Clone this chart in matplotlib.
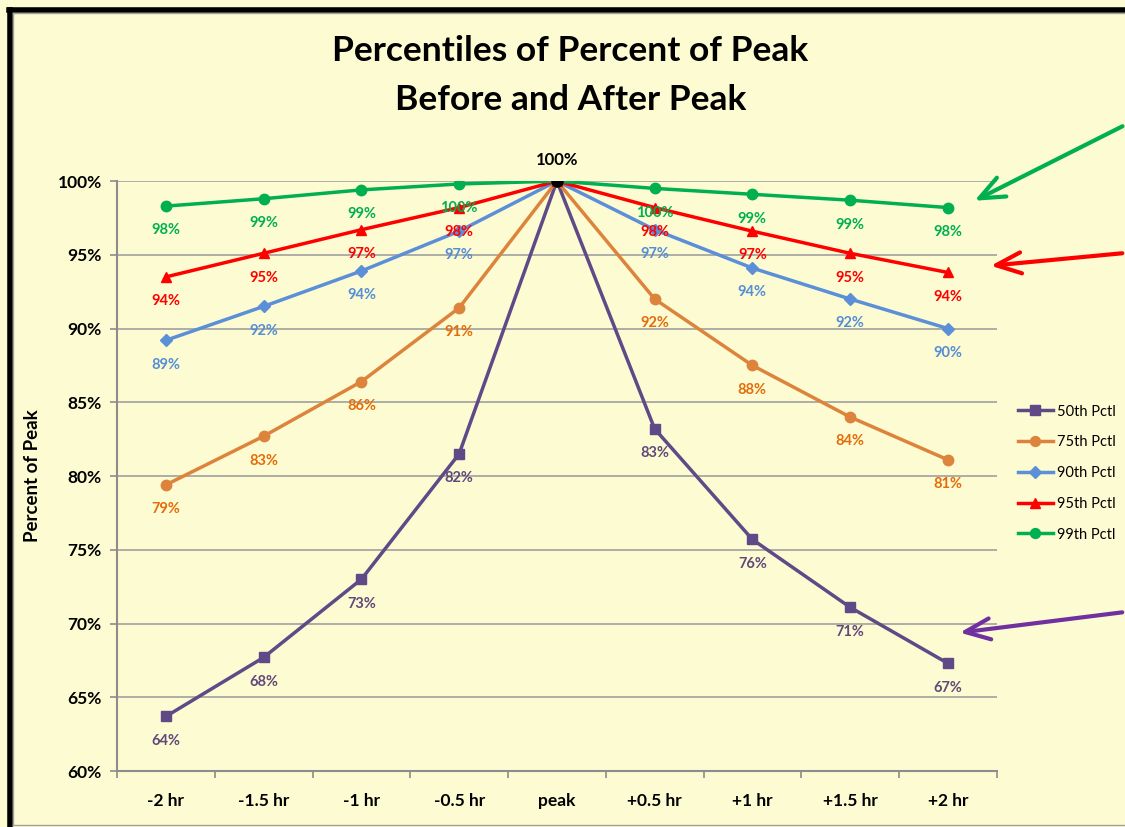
import matplotlib.pyplot as plt
from matplotlib.lines import Line2D
from matplotlib.patches import FancyArrowPatch
from matplotlib.ticker import FixedLocator, PercentFormatter

plt.rcParams["font.family"] = ["Lato", "DejaVu Sans"]

hours = ["-2 hr", "-1.5 hr", "-1 hr", "-0.5 hr", "peak",
         "+0.5 hr", "+1 hr", "+1.5 hr", "+2 hr"]

p50 = [63.7, 67.7, 73.0, 81.5, 100.0, 83.2, 75.7, 71.1, 67.3]
p75 = [79.4, 82.7, 86.4, 91.4, 100.0, 92.0, 87.5, 84.0, 81.1]
p90 = [89.2, 91.5, 93.9, 96.6, 100.0, 96.7, 94.1, 92.0, 90.0]
p95 = [93.5, 95.1, 96.7, 98.2, 100.0, 98.2, 96.6, 95.1, 93.8]
p99 = [98.3, 98.8, 99.4, 99.8, 100.0, 99.5, 99.1, 98.7, 98.2]

series = [
    ("50th Pctl", p50, "#5F4A87", "#60497A", "s"),
    ("75th Pctl", p75, "#DD843C", "#E46C0A", "o"),
    ("90th Pctl", p90, "#5B8FD7", "#558ED5", "D"),
    ("95th Pctl", p95, "#FF0000", "#FF0000", "^"),
    ("99th Pctl", p99, "#00B050", "#00B050", "o"),
]

BG = "#FDFBD2"
x = list(range(len(hours)))

fig = plt.figure(figsize=(11.25, 8.27), dpi=100, facecolor=BG)
ax = fig.add_axes([0.104, 0.0677, 0.782, 0.7134], facecolor=BG)

for name, vals, col, lcol, mk in series:
    ms = {"s": 7, "o": 7.5, "D": 6.5, "^": 7}[mk]
    ax.plot(x, vals, color=col, lw=2.5, marker=mk, ms=ms,
            markeredgecolor=col, label=name, zorder=3)
    for xi, v in zip(x, vals):
        if hours[xi] == "peak":
            continue
        ax.annotate(f"{v:.0f}%", (xi, v), xytext=(0, -17.5),
                    textcoords="offset points", ha="center", va="center",
                    fontsize=10.5, fontweight="bold", color=lcol, zorder=4)

# common point at the peak
ax.plot([4], [p50[4]], "o", color="black", ms=8, zorder=5)
ax.annotate(f"{p50[4]:.0f}%", (4, p50[4]), xytext=(0, 15),
            textcoords="offset points", ha="center", va="center",
            fontsize=12, fontweight="bold", color="black")

ax.set_xlim(-0.5, len(hours) - 0.5)
ax.set_ylim(60, 100)
ax.set_yticks(range(60, 101, 5))
ax.yaxis.set_major_formatter(PercentFormatter(decimals=0))
ax.set_xticks(x)
ax.set_xticklabels(hours)
ax.xaxis.set_minor_locator(FixedLocator([i - 0.5 for i in range(len(hours) + 1)]))
ax.tick_params(axis="x", which="major", length=0, pad=16)
ax.tick_params(axis="x", which="minor", length=5, color="#8C8C8C", width=1.2)
ax.tick_params(axis="y", length=5, color="#8C8C8C", width=1.2, pad=6)
for lab in ax.get_xticklabels() + ax.get_yticklabels():
    lab.set_fontweight("bold")
    lab.set_fontsize(12.5)

ax.grid(axis="y", color="#A0A0A0", lw=1.2)
ax.set_axisbelow(True)
for side in ("top", "right"):
    ax.spines[side].set_visible(False)
for side in ("left", "bottom"):
    ax.spines[side].set_color("#8C8C8C")
    ax.spines[side].set_linewidth(1.5)

ax.set_ylabel("Percent of Peak", fontsize=13.5, fontweight="bold", labelpad=12)

fig.text(0.507, 0.938, "Percentiles of Percent of Peak", ha="center", va="center",
         fontsize=25.5, fontweight="bold")
fig.text(0.507, 0.879, "Before and After Peak", ha="center", va="center",
         fontsize=25.5, fontweight="bold")

fig.legend(loc="center left", bbox_to_anchor=(0.893, 0.428), frameon=False,
           fontsize=10.5, handlelength=2.4, labelspacing=1.15, markerscale=0.95,
           handletextpad=0.3)

# callout arrows from the right margin
arrow_kw = dict(arrowstyle="->,head_length=1.0,head_width=0.42", lw=3,
                mutation_scale=18, transform=fig.transFigure, clip_on=False)
for start, end, col in [((1.0, 1 - 125 / 827), (972 / 1125, 1 - 202 / 827), "#00B050"),
                        ((1.0, 1 - 253 / 827), (988 / 1125, 1 - 266 / 827), "#FF0000"),
                        ((1.0, 1 - 612 / 827), (957 / 1125, 1 - 633 / 827), "#7030A0")]:
    fig.patches.append(FancyArrowPatch(start, end, color=col, **arrow_kw))

# chart frame
fig.add_artist(Line2D([9 / 1125, 1.0], [1 - 9.5 / 827] * 2, color="black", lw=4,
                      transform=fig.transFigure))
fig.add_artist(Line2D([9.5 / 1125] * 2, [0, 1 - 9.5 / 827], color="black", lw=4,
                      transform=fig.transFigure))
fig.add_artist(Line2D([13 / 1125, 1.0], [1 - 13 / 827] * 2, color="#A0A0A0", lw=1,
                      transform=fig.transFigure))
fig.add_artist(Line2D([13 / 1125] * 2, [2 / 827, 1 - 13 / 827], color="#A0A0A0", lw=1,
                      transform=fig.transFigure))
fig.add_artist(Line2D([13 / 1125, 1.0], [2 / 827] * 2, color="#A0A0A0", lw=1,
                      transform=fig.transFigure))

fig.savefig("out.png", dpi=100, facecolor=BG)
